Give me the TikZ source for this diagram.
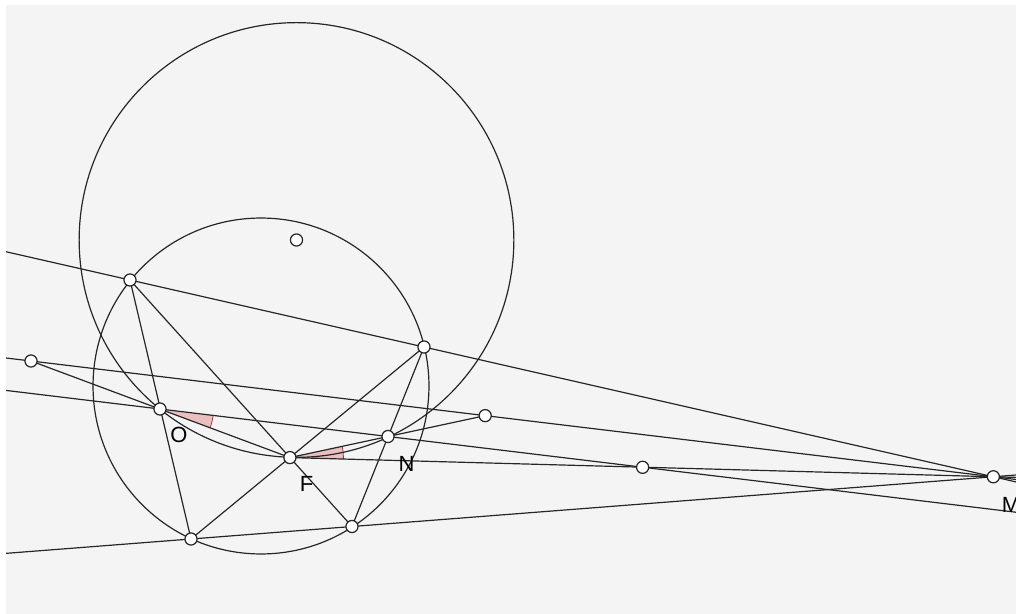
\documentclass[tikz,border=0pt]{standalone}
\usepackage{fontspec}
\setmainfont{Liberation Sans}
\usetikzlibrary{calc}
\usetikzlibrary{angles}
\definecolor{paper}{HTML}{F4F4F4}
\definecolor{anglefill}{HTML}{E39C9C}
\definecolor{anglearc}{HTML}{A83C3C}
\providecommand{\pencil}{black!85}
\tikzset{
  pt/.style = {circle, draw = \pencil, fill = white, line width = 0.7pt, inner sep = 0pt, minimum size = 6.9pt},
  lbl/.style = {text = black, inner sep = 0pt, font = \fontsize{12.5}{14}\selectfont},
  mark angle/.style = {draw = anglearc, line width = 0.45pt, fill = anglefill, fill opacity = 0.6, angle radius = 1.07cm}
}

\begin{document}
\begin{tikzpicture}[x = 0.02cm, y = -0.02cm, line width = 0.68pt]%
  \useasboundingbox (0, 0) rectangle (1016, 614);
  \fill[paper] (6, 5) rectangle (1016, 614);

  \begin{scope}
    \clip (6, 5) rectangle (1016, 614);

    % points of the construction
    \coordinate (S) at (261, 386);
    \coordinate (K) at (296.5, 240);
    \coordinate (A) at (130, 280);
    \coordinate (B) at (424, 347);
    \coordinate (C) at (191, 539);
    \coordinate (D) at (352, 526.5);
    \coordinate (O) at (160, 409);
    \coordinate (N) at (388, 436.5);
    \coordinate (P) at (31, 361);
    \coordinate (F) at (intersection of A--D and B--C);
    \coordinate (M) at (intersection of A--B and C--D);
    \coordinate (Q) at (intersection of F--N and P--M);
    \coordinate (R) at (intersection of O--N and F--M);

    \pic[mark angle] {angle = F--O--N};
    \pic[mark angle] {angle = M--F--N};

    \draw[\pencil] (S) circle[radius = 3.36cm];
    \draw[\pencil] (K) circle[radius = 4.348cm];

    % lines through M
    \draw[\pencil] ($(A)!-0.2!(M)$) -- ($(A)!1.1!(M)$);
    \draw[\pencil] ($(C)!-0.3!(M)$) -- ($(C)!1.1!(M)$);
    \draw[\pencil] ($(P)!-0.1!(M)$) -- ($(P)!1.1!(M)$);
    \draw[\pencil] (F) -- ($(F)!1.1!(M)$);
    \draw[\pencil] ($(O)!-1!(N)$) -- ($(O)!4!(N)$);

    % chords
    \draw[\pencil] (A) -- (C);
    \draw[\pencil] (A) -- (D);
    \draw[\pencil] (B) -- (C);
    \draw[\pencil] (B) -- (D);
    \draw[\pencil] (P) -- (F);
    \draw[\pencil] (F) -- (Q);

    \foreach \p in {K, A, B, C, D, O, N, P, F, M, Q, R}
      \node[pt] (dot\p) at (\p) {};

    \node[lbl] (labelO) at (179, 435) {O};
    \node[lbl] (labelF) at (306.5, 484) {F};
    \node[lbl] (labelN) at (406.5, 464) {N};
    \node[lbl] (labelM) at (1011, 505) {M};
  \end{scope}
\end{tikzpicture}
\end{document}
